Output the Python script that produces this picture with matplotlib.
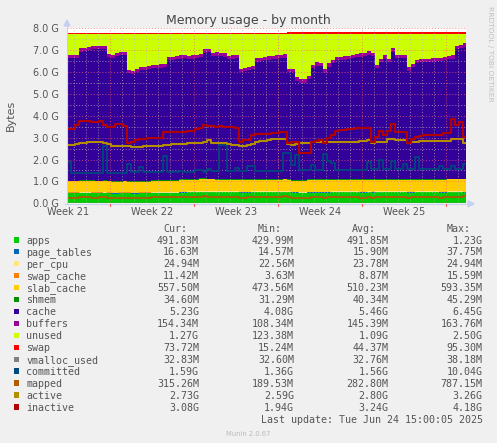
import numpy as np
import matplotlib
matplotlib.use('Agg')
import matplotlib.pyplot as plt
from matplotlib.patches import Rectangle, Polygon

# ---------------- data (GB), one sample every 8 hours ----------------
N = 100
days = np.arange(N) / 3.0
RAM_TOTAL = 7.73

apps = [0.45, 0.45, 0.45, 0.46, 0.46, 0.46, 0.45, 0.45, 0.45, 0.46,
        0.45, 0.44, 0.44, 0.45, 0.45, 0.45, 0.44, 0.44, 0.45, 0.45,
        0.45, 0.46, 0.46, 0.46, 0.47, 0.47, 0.47, 0.47, 0.48, 0.49,
        0.50, 0.50, 0.50, 0.51, 0.51, 0.50, 0.50, 0.50, 0.50, 0.50,
        0.50, 0.50, 0.50, 0.49, 0.49, 0.49, 0.50, 0.50, 0.50, 0.50,
        0.50, 0.50, 0.50, 0.50, 0.51, 0.50, 0.48, 0.48, 0.47, 0.47,
        0.48, 0.49, 0.49, 0.49, 0.48, 0.49, 0.50, 0.50, 0.50, 0.50,
        0.50, 0.50, 0.50, 0.49, 0.49, 0.50, 0.49, 0.50, 0.50, 0.50,
        0.50, 0.50, 0.50, 0.50, 0.50, 0.49, 0.49, 0.50, 0.50, 0.50,
        0.50, 0.50, 0.50, 0.49, 0.49, 0.50, 0.50, 0.50, 0.50, 0.49]
page_tables = [0.016] * N
per_cpu = [0.024] * N
swap_cache = [0.009] * N
slab_cache = [0.50, 0.50, 0.50, 0.50, 0.51, 0.51, 0.51, 0.50, 0.50, 0.50,
              0.50, 0.49, 0.49, 0.49, 0.50, 0.49, 0.48, 0.48, 0.49, 0.49,
              0.49, 0.50, 0.50, 0.50, 0.50, 0.51, 0.51, 0.52, 0.52, 0.52,
              0.53, 0.53, 0.53, 0.54, 0.54, 0.54, 0.54, 0.53, 0.53, 0.53,
              0.53, 0.53, 0.53, 0.52, 0.52, 0.52, 0.52, 0.53, 0.53, 0.53,
              0.53, 0.53, 0.53, 0.53, 0.53, 0.52, 0.51, 0.51, 0.51, 0.51,
              0.52, 0.52, 0.52, 0.52, 0.52, 0.52, 0.53, 0.53, 0.53, 0.53,
              0.53, 0.53, 0.53, 0.53, 0.53, 0.53, 0.52, 0.52, 0.53, 0.53,
              0.53, 0.53, 0.53, 0.53, 0.53, 0.52, 0.52, 0.53, 0.53, 0.53,
              0.53, 0.53, 0.53, 0.53, 0.53, 0.54, 0.54, 0.54, 0.54, 0.55]
shmem = [0.040] * N
cache = [5.59, 5.59, 5.61, 5.89, 5.91, 5.93, 5.99, 6.01, 6.01, 5.99,
         5.63, 5.61, 5.71, 5.73, 5.73, 4.91, 4.91, 4.99, 5.05, 5.06,
         5.11, 5.13, 5.14, 5.15, 5.17, 5.46, 5.49, 5.51, 5.53, 5.54,
         5.48, 5.50, 5.52, 5.53, 5.75, 5.78, 5.61, 5.63, 5.61, 5.58,
         5.48, 5.50, 5.51, 4.89, 4.95, 4.98, 5.01, 5.36, 5.38, 5.41,
         5.45, 5.47, 5.49, 5.51, 5.53, 4.89, 4.93, 4.53, 4.45, 4.45,
         4.58, 5.08, 5.20, 5.18, 4.89, 5.15, 5.28, 5.41, 5.43, 5.45,
         5.48, 5.51, 5.55, 5.59, 5.63, 5.68, 5.63, 5.08, 5.35, 5.50,
         5.33, 5.81, 5.53, 5.53, 5.51, 4.97, 5.13, 5.28, 5.33, 5.35,
         5.35, 5.36, 5.37, 5.39, 5.45, 5.47, 5.49, 5.91, 5.95, 6.03]
buffers = [0.15] * N
swap = [0.04] * 55 + [0.09] * 45
vmalloc_used = [0.033] * N
committed = [1.90, 1.38, 1.38, 1.38, 1.38, 1.38, 1.39, 1.39, 1.39, 2.60,
             1.40, 1.40, 1.40, 1.40, 1.40, 1.80, 1.42, 1.42, 1.65, 1.42,
             1.42, 1.42, 1.42, 1.42, 2.15, 1.45, 1.45, 1.45, 1.48, 1.45,
             1.45, 1.45, 1.50, 1.50, 1.45, 1.55, 1.46, 1.46, 2.65, 2.65,
             1.46, 1.46, 1.60, 1.46, 1.46, 1.70, 1.70, 1.47, 1.47, 1.47,
             1.47, 1.47, 1.47, 1.47, 2.30, 2.30, 1.75, 2.20, 1.50, 1.50,
             1.50, 1.75, 1.50, 1.50, 2.25, 1.95, 1.85, 1.50, 1.50, 1.50,
             1.50, 1.52, 1.52, 1.52, 1.52, 1.90, 1.55, 1.55, 2.00, 1.55,
             1.55, 1.95, 1.55, 1.55, 1.80, 1.55, 1.55, 2.10, 1.55, 1.55,
             1.56, 1.56, 1.56, 1.70, 1.57, 1.57, 1.70, 1.57, 1.57, 1.80]
mapped = [0.24, 0.24, 0.26, 0.28, 0.28, 0.28, 0.26, 0.26, 0.27, 0.28,
          0.24, 0.22, 0.22, 0.25, 0.26, 0.22, 0.22, 0.24, 0.24, 0.25,
          0.25, 0.28, 0.28, 0.27, 0.30, 0.30, 0.28, 0.27, 0.27, 0.29,
          0.29, 0.27, 0.28, 0.30, 0.32, 0.30, 0.29, 0.28, 0.30, 0.30,
          0.28, 0.28, 0.29, 0.26, 0.26, 0.28, 0.29, 0.30, 0.31, 0.30,
          0.30, 0.29, 0.29, 0.30, 0.32, 0.30, 0.26, 0.25, 0.24, 0.24,
          0.26, 0.28, 0.29, 0.28, 0.26, 0.27, 0.30, 0.30, 0.29, 0.29,
          0.30, 0.30, 0.29, 0.26, 0.25, 0.28, 0.26, 0.29, 0.30, 0.30,
          0.31, 0.30, 0.29, 0.30, 0.29, 0.26, 0.27, 0.28, 0.28, 0.28,
          0.28, 0.29, 0.28, 0.26, 0.28, 0.30, 0.30, 0.29, 0.30, 0.32]
active = [2.66, 2.66, 2.72, 2.74, 2.76, 2.80, 2.80, 2.80, 2.79, 2.76,
          2.70, 2.62, 2.63, 2.64, 2.63, 2.60, 2.58, 2.56, 2.57, 2.60,
          2.62, 2.63, 2.63, 2.64, 2.68, 2.68, 2.69, 2.69, 2.70, 2.72,
          2.74, 2.76, 2.77, 2.77, 2.80, 2.88, 2.76, 2.74, 2.74, 2.74,
          2.70, 2.66, 2.66, 2.62, 2.64, 2.66, 2.70, 2.82, 2.83, 2.84,
          2.90, 2.92, 2.94, 2.94, 2.94, 2.70, 2.68, 2.70, 2.76, 2.77,
          2.77, 2.78, 2.80, 2.80, 2.78, 2.80, 2.80, 2.80, 2.80, 2.80,
          2.80, 2.81, 2.82, 2.84, 2.86, 2.89, 2.77, 2.78, 2.80, 2.80,
          2.94, 2.96, 2.88, 2.88, 2.88, 2.74, 2.80, 2.82, 2.83, 2.83,
          2.83, 2.83, 2.84, 2.84, 2.84, 2.85, 2.94, 2.94, 2.92, 2.76]
inactive = [3.38, 3.40, 3.57, 3.76, 3.77, 3.76, 3.73, 3.73, 3.77, 3.60,
            3.50, 3.50, 3.62, 3.62, 3.55, 2.74, 2.80, 2.90, 2.92, 2.95,
            2.97, 2.97, 2.97, 2.98, 3.25, 3.28, 3.28, 3.28, 3.28, 3.28,
            3.30, 3.32, 3.40, 3.42, 3.60, 3.55, 3.52, 3.50, 3.52, 3.50,
            3.50, 3.48, 3.42, 2.82, 2.88, 2.88, 3.10, 3.15, 3.15, 3.16,
            3.18, 3.20, 3.22, 3.24, 3.25, 2.76, 2.78, 2.78, 2.31, 2.31,
            2.31, 2.78, 2.86, 2.88, 2.74, 2.98, 3.10, 3.30, 3.35, 3.36,
            3.38, 3.40, 3.42, 3.42, 3.43, 3.42, 2.80, 3.03, 3.30, 3.10,
            3.30, 3.62, 3.28, 3.27, 3.27, 2.76, 2.96, 3.03, 3.08, 3.10,
            3.10, 3.11, 3.12, 3.14, 3.20, 3.20, 3.85, 3.57, 3.72, 3.02]

used = (np.array(apps) + np.array(page_tables) + np.array(per_cpu) + np.array(swap_cache)
        + np.array(slab_cache) + np.array(shmem) + np.array(cache) + np.array(buffers))
unused = RAM_TOTAL - used

stack_names = ['apps', 'page_tables', 'per_cpu', 'swap_cache', 'slab_cache',
               'shmem', 'cache', 'buffers', 'unused', 'swap']
stack_series = [apps, page_tables, per_cpu, swap_cache, slab_cache,
                shmem, cache, buffers, unused, swap]
line_names = ['vmalloc_used', 'committed', 'mapped', 'active', 'inactive']
line_series = [vmalloc_used, committed, mapped, active, inactive]

colors = {
    'apps': '#00CC00', 'page_tables': '#0066B3', 'per_cpu': '#FFE680',
    'swap_cache': '#FF8000', 'slab_cache': '#FFCC00', 'shmem': '#008F00',
    'cache': '#330099', 'buffers': '#990099', 'unused': '#CCFF00',
    'swap': '#FF0000', 'vmalloc_used': '#808080', 'committed': '#00487D',
    'mapped': '#B35A00', 'active': '#B38F00', 'inactive': '#B30000',
}

legend_names = ['apps', 'page_tables', 'per_cpu', 'swap_cache', 'slab_cache', 'shmem',
                'cache', 'buffers', 'unused', 'swap', 'vmalloc_used', 'committed',
                'mapped', 'active', 'inactive']
cur_vals = ['491.83M', '16.63M', '24.94M', '11.42M', '557.50M', '34.60M', '5.23G',
            '154.34M', '1.27G', '73.72M', '32.83M', '1.59G', '315.26M', '2.73G', '3.08G']
min_vals = ['429.99M', '14.57M', '22.56M', '3.63M', '473.56M', '31.29M', '4.08G',
            '108.34M', '123.38M', '15.24M', '32.60M', '1.36G', '189.53M', '2.59G', '1.94G']
avg_vals = ['491.85M', '15.90M', '23.78M', '8.87M', '510.23M', '40.34M', '5.46G',
            '145.39M', '1.09G', '44.37M', '32.76M', '1.56G', '282.80M', '2.80G', '3.24G']
max_vals = ['1.23G', '37.75M', '24.94M', '15.59M', '593.35M', '45.29M', '6.45G',
            '163.76M', '2.50G', '95.30M', '38.18M', '10.04G', '787.15M', '3.26G', '4.18G']

week_labels = ['Week 21', 'Week 22', 'Week 23', 'Week 24', 'Week 25']
week_label_pos = [0.08, 7.08, 14.08, 21.08, 28.08]
week_start = 3.58  # first major (week boundary) grid line, days

# ---------------- figure ----------------
W, H = 497, 443
fig = plt.figure(figsize=(W / 100, H / 100), dpi=100, facecolor='#F0F0F0')
px_l, px_r, px_t, px_b = 67, 466, 28.3, 203.3
ax = fig.add_axes([px_l / W, 1 - px_b / H, (px_r - px_l) / W, (px_b - px_t) / H])
ax.set_facecolor('white')

x_edges = np.append(days, days[-1] + 1 / 3)
ext = lambda a: np.append(np.asarray(a, float), np.asarray(a, float)[-1])

ax.stackplot(x_edges, *[ext(s) for s in stack_series],
             colors=[colors[n] for n in stack_names], step='post', linewidth=0, zorder=1)

# grid
for v in np.arange(0.5, 8.0, 1.0):
    ax.axhline(v, color='#BABABA', lw=0.7, ls=(0, (1, 2)), alpha=0.7, zorder=2)
for v in np.arange(1, 9):
    ax.axhline(v, color='#FF6060', lw=0.7, ls=(0, (1, 2)), alpha=0.7, zorder=2)
for d in np.arange(week_start - 3, 33.25, 1.0):
    if abs(((d - week_start) % 7)) < 1e-6:
        continue
    ax.axvline(d, color='#BABABA', lw=0.7, ls=(0, (1, 2)), alpha=0.7, zorder=2)
for d in np.arange(week_start, 33.25, 7.0):
    ax.axvline(d, color='#FF6060', lw=0.7, ls=(0, (1, 2)), alpha=0.7, zorder=2)

lw_map = {'vmalloc_used': 1.0, 'committed': 1.3, 'mapped': 1.3, 'active': 1.5, 'inactive': 1.5}
for n, s in zip(line_names, line_series):
    ax.step(x_edges, ext(s), where='post', color=colors[n], lw=lw_map[n], zorder=3)

ax.set_xlim(0, 33.25)
ax.set_ylim(0, 8.0)
ax.set_yticks(np.arange(0, 9))
ax.set_yticklabels([f'{v:.1f} G' for v in np.arange(0, 9)])
ax.set_xticks(week_label_pos)
ax.set_xticklabels(week_labels)
ax.tick_params(axis='y', length=0, pad=5.5, labelsize=7, labelcolor='#555555')
ax.tick_params(axis='x', length=0, pad=3, labelsize=7, labelcolor='#555555')
for sp in ax.spines.values():
    sp.set_visible(False)

# overlay in pixel coords
ov = fig.add_axes([0, 0, 1, 1], facecolor='none')
ov.set_xlim(0, W)
ov.set_ylim(H, 0)
ov.axis('off')

axis_col = '#C8D0F0'
ov.plot([px_l, px_l], [px_b + 1, 24], color=axis_col, lw=0.8)
ov.plot([px_l - 2, px_r + 2], [px_b + 0.8, px_b + 0.8], color=axis_col, lw=0.8)
ov.add_patch(Polygon([[px_l - 3, 26], [px_l + 3, 26], [px_l, 20]], closed=True, color=axis_col))
ov.add_patch(Polygon([[px_r + 2, px_b - 2.5], [px_r + 2, px_b + 3.5], [px_r + 8, px_b + 0.5]],
                     closed=True, color=axis_col))
# major x ticks below axis
for d in np.arange(week_start, 33.25, 7.0):
    xp = px_l + d * 12
    ov.plot([xp, xp], [px_b + 1, px_b + 3], color='#FF6060', lw=0.8)

ov.text(248.5, 24.3, 'Memory usage - by month', ha='center', va='baseline',
        fontsize=9, color='#444444', family='DejaVu Sans')
ov.text(10.5, 115, 'Bytes', ha='center', va='center', rotation=90,
        fontsize=8, color='#555555', family='DejaVu Sans')
ov.text(490, 53.5, 'RRDTOOL / TOBI OETIKER', ha='center', va='center', rotation=270,
        fontsize=5.4, color='#C0C0C0', family='DejaVu Sans')

mono = dict(family='DejaVu Sans Mono', fontsize=7.2, color='#555555', va='baseline')
col_right = [199, 294, 388.3, 482.7]
headers = ['Cur:', 'Min:', 'Avg:', 'Max:']
for cr, h in zip(col_right, headers):
    ov.text(cr - 12, 231.7, h, ha='right', **mono)
row0, dy = 243.5, 11.93
for k, n in enumerate(legend_names):
    yb = row0 + k * dy
    ov.add_patch(Rectangle((14, yb - 6.3), 5.3, 5.3, color=colors[n], lw=0))
    ov.text(26.3, yb, n, ha='left', **mono)
    for cr, vals in zip(col_right, [cur_vals, min_vals, avg_vals, max_vals]):
        ov.text(cr, yb, vals[k], ha='right', **mono)
ov.text(482.7, 423.3, 'Last update: Tue Jun 24 15:00:05 2025', ha='right', **mono)
ov.text(248, 435.7, 'Munin 2.0.67', ha='center', va='baseline', fontsize=4.9,
        color='#BBBBBB', family='DejaVu Sans')

fig.savefig('out.png', dpi=100, facecolor=fig.get_facecolor())
